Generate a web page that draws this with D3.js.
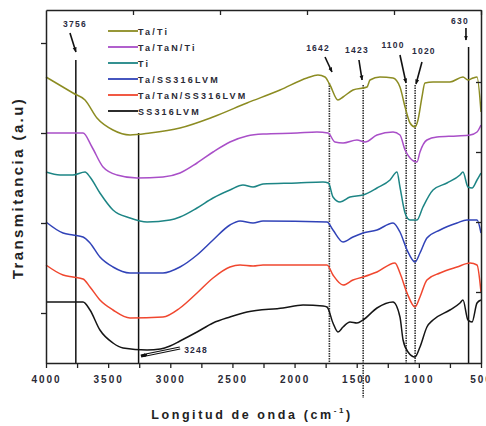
<!DOCTYPE html>
<html>
<head>
<meta charset="utf-8">
<script src="https://cdn.jsdelivr.net/npm/d3@7"></script>
<style>
  body { margin: 0; background: #fff; }
  svg { display: block; font-family: "Liberation Sans", Arial, sans-serif; }
</style>
</head>
<body>
<script>
// Series: [wavenumber (cm-1), transmittance (a.u.)]
const seriesNames = ["Ta/Ti", "Ta/TaN/Ti", "Ti", "Ta/SS316LVM", "Ta/TaN/SS316LVM", "SS316LVM"];
const seriesColors = ["#8c8c22", "#a94fc8", "#1d8585", "#3143b8", "#f0472f", "#151515"];

const taTi = [[4000,28.6],[3783,27.0],[3686,26.3],[3590,24.5],[3461,23.3],[3324,22.8],[3163,23.0],[2922,23.5],
  [2656,24.6],[2383,26.0],[2117,27.3],[1900,28.5],[1812,28.8],[1755,28.6],[1715,27.8],[1651,26.3],[1610,26.6],
  [1530,27.3],[1417,27.6],[1393,28.3],[1313,28.6],[1208,28.5],[1152,27.6],[1111,25.6],[1071,24.0],[1031,23.6],
  [1007,24.3],[975,26.6],[951,28.0],[886,28.1],[750,28.1],[645,28.6],[605,28.3],[564,28.5],[532,28.6],[500,25.1]];

const taTaNTi = [[4000,23.0],[3702,23.0],[3630,21.6],[3541,19.6],[3429,18.8],[3268,18.5],[3059,18.6],[2922,19.0],
  [2785,20.0],[2656,21.1],[2520,22.1],[2383,22.7],[2254,22.9],[1980,23.0],[1820,23.1],[1731,23.0],[1675,22.1],
  [1610,22.0],[1498,22.3],[1433,22.1],[1337,22.8],[1208,23.1],[1152,22.8],[1111,21.3],[1071,20.5],[1015,20.1],
  [991,21.1],[935,22.3],[854,22.6],[693,22.7],[588,22.8],[532,23.1],[500,23.8]];

const ti = [[4000,19.1],[3887,18.8],[3783,18.8],[3686,19.1],[3646,18.6],[3566,17.0],[3461,15.3],[3324,14.5],
  [3187,14.1],[3002,14.3],[2922,14.6],[2785,15.5],[2656,16.5],[2520,17.3],[2415,17.8],[2334,17.6],[2254,17.9],
  [1980,18.0],[1771,18.1],[1727,18.0],[1691,16.6],[1634,16.1],[1554,16.6],[1449,16.8],[1337,17.5],[1232,18.3],
  [1176,19.1],[1152,17.6],[1111,15.0],[1071,14.3],[1015,14.3],[967,15.6],[886,17.3],[774,18.0],[669,18.8],
  [645,19.1],[605,17.6],[572,17.5],[532,18.3],[500,19.0]];

const taSS = [[4000,14.1],[3863,13.0],[3783,12.8],[3702,12.6],[3646,12.0],[3566,10.6],[3461,9.6],[3324,9.0],
  [3059,9.0],[2922,9.6],[2785,10.8],[2656,12.3],[2520,13.8],[2439,14.2],[2334,14.0],[2254,14.2],[1739,14.1],
  [1691,13.3],[1610,12.1],[1530,12.6],[1449,13.0],[1337,13.3],[1208,14.0],[1152,13.1],[1095,11.3],[1031,10.1],
  [991,11.0],[935,12.5],[830,13.3],[693,14.0],[613,14.3],[532,14.3],[500,13.0]];

const taTaNSS = [[4000,9.8],[3863,8.8],[3783,8.6],[3702,8.4],[3646,7.6],[3566,6.3],[3461,5.3],[3324,4.5],
  [3059,4.6],[2922,5.5],[2785,7.0],[2656,8.5],[2520,9.6],[2439,9.8],[2334,9.7],[2254,9.8],[1739,9.8],
  [1691,8.8],[1610,7.8],[1530,8.3],[1449,8.6],[1337,9.1],[1192,10.0],[1152,9.0],[1095,7.0],[1031,5.6],
  [991,6.6],[935,8.3],[830,9.0],[693,9.6],[588,10.0],[532,9.8],[500,7.1]];

const ss316 = [[4000,6.1],[3702,6.1],[3646,5.3],[3566,3.3],[3461,2.0],[3380,1.5],[3187,1.3],[3080,1.4],
  [3002,1.7],[2922,2.2],[2785,3.1],[2656,4.0],[2520,4.6],[2383,5.1],[2093,5.5],[1932,5.8],[1771,5.7],[1739,5.6],
  [1691,4.0],[1651,3.1],[1610,3.6],[1554,4.1],[1498,4.0],[1449,4.3],[1337,5.5],[1208,6.1],[1152,4.6],
  [1127,2.3],[1087,1.1],[1031,0.6],[991,1.6],[935,3.6],[886,4.3],[750,5.3],[669,6.0],[645,6.3],
  [605,4.3],[572,4.1],[532,6.0],[500,6.3]];

const allSeries = [taTi, taTaNTi, ti, taSS, taTaNSS, ss316];

// Axis ticks
const xTickValues = d3.range(500, 4001, 250);
const xTopTicks = [500, 1200, 1900, 2600, 3300];
const yLeftTicks = [5, 14, 23, 32];
const yRightTicks = [7.1, 14.1, 21.1, 28.1];

// Marker lines: [wavenumber, top value, bottom value]
const solidLines = [[3760, 30.3, 0], [3255, 23.0, 0], [600, 31.6, 0]];
const dashedLines = [[1720, 28.0, 0], [1448, 27.8, -3.5], [1102, 27.8, 0], [1030, 27.8, 0]];

// Peak labels: text, label position, arrow from [wn,t] to [wn,t]
const peakLabels = ["3756", "1642", "1423", "1100", "1020", "630"];
const peakLabelPos = [[3767, 33.6], [1811, 31.2], [1498, 31.0], [1208, 31.5], [959, 30.9], [669, 33.9]];
const peakArrows = [[[3807, 33.0], [3759, 31.1]], [[1755, 30.6], [1699, 29.1]], [[1482, 30.3], [1457, 28.3]],
  [[1152, 30.8], [1103, 28.0]], [[975, 30.1], [1023, 27.9]], [[621, 33.5], [621, 32.3]]];

const svgWidth = 486;
const svgHeight = 426;
const padLeft = 46, padRight = 481, padTop = 10, padBottom = 363;

const svg = d3.select("body").append("svg")
  .attr("width", svgWidth)
  .attr("height", svgHeight);

const xScale = d3.scaleLinear().domain([4000, 500]).range([padLeft, padRight]);
const yScale = d3.scaleLinear().domain([0, 35.3]).range([padBottom, padTop]);

svg.append("defs").append("marker")
  .attr("id", "head")
  .attr("viewBox", "0 0 10 10")
  .attr("refX", 9).attr("refY", 5)
  .attr("markerWidth", 5).attr("markerHeight", 5)
  .attr("markerUnits", "userSpaceOnUse")
  .attr("orient", "auto")
  .append("path").attr("d", "M0,1L10,5L0,9Z").attr("fill", "#111");

// vertical marker lines (behind curves)
svg.selectAll(".vsolid").data(solidLines).enter().append("line")
  .attr("x1", d => xScale(d[0])).attr("x2", d => xScale(d[0]))
  .attr("y1", d => yScale(d[1])).attr("y2", d => yScale(d[2]))
  .attr("stroke", "#111").attr("stroke-width", 1.5);

svg.selectAll(".vdash").data(dashedLines).enter().append("line")
  .attr("x1", d => xScale(d[0])).attr("x2", d => xScale(d[0]))
  .attr("y1", d => yScale(d[1])).attr("y2", d => yScale(d[2]))
  .attr("stroke", "#333").attr("stroke-width", 1.6)
  .attr("stroke-dasharray", "1.5,1");

// spectra
const line = d3.line()
  .x(d => xScale(d[0]))
  .y(d => yScale(d[1]))
  .curve(d3.curveMonotoneX);

svg.selectAll(".spectrum").data(allSeries).enter().append("path")
  .attr("d", line)
  .attr("fill", "none")
  .attr("stroke", (d, i) => seriesColors[i])
  .attr("stroke-width", 1.5);

// axes
const xAxis = d3.axisBottom(xScale).tickValues(xTickValues)
  .tickFormat(d => d % 500 === 0 ? d : "")
  .tickSizeInner(5).tickSizeOuter(0).tickPadding(8);
const gx = svg.append("g").attr("transform", "translate(0," + padBottom + ")").call(xAxis);

svg.append("g").attr("transform", "translate(0," + padTop + ")")
  .call(d3.axisTop(xScale).tickValues(xTopTicks).tickFormat("").tickSizeInner(-5).tickSizeOuter(0));
svg.append("g").attr("transform", "translate(" + padLeft + ",0)")
  .call(d3.axisLeft(yScale).tickValues(yLeftTicks).tickFormat("").tickSizeInner(5).tickSizeOuter(0));
svg.append("g").attr("transform", "translate(" + padRight + ",0)")
  .call(d3.axisRight(yScale).tickValues(yRightTicks).tickFormat("").tickSizeInner(-5).tickSizeOuter(0));

svg.selectAll(".domain").attr("stroke", "#222").attr("stroke-width", 1.5);
svg.selectAll(".tick line").attr("stroke", "#222").attr("stroke-width", 1.3);
gx.selectAll("text")
  .attr("font-size", 10).attr("font-weight", "bold")
  .attr("fill", "#2a2a35").style("letter-spacing", "2px")
  .attr("font-family", "Liberation Sans, Arial, sans-serif");

// axis titles
const xTitle = svg.append("text")
  .attr("x", 252).attr("y", 419)
  .attr("text-anchor", "middle")
  .attr("font-size", 12.5).attr("font-weight", "bold").attr("fill", "#222")
  .style("letter-spacing", "2.6px");
xTitle.append("tspan").text("Longitud de onda (cm");
xTitle.append("tspan").attr("font-size", 8).attr("dy", -6).text("-1");
xTitle.append("tspan").attr("dy", 6).text(")");

svg.append("text")
  .attr("transform", "translate(23,188) rotate(-90)")
  .attr("text-anchor", "middle")
  .attr("font-size", 15).attr("font-weight", "bold").attr("fill", "#222")
  .style("letter-spacing", "2.4px")
  .text("Transmitancia (a.u)");

// legend
const legend = svg.append("g").attr("transform", "translate(108,31)");
const rows = legend.selectAll("g").data(seriesNames).enter().append("g")
  .attr("transform", (d, i) => "translate(0," + (i * 16) + ")");
rows.append("line").attr("x1", 0).attr("x2", 30).attr("y1", 0).attr("y2", 0)
  .attr("stroke", (d, i) => seriesColors[i]).attr("stroke-width", 1.8);
rows.append("text").attr("x", 30).attr("y", 3.5)
  .attr("font-size", 9).attr("font-weight", "bold").attr("fill", "#2a2a35")
  .style("letter-spacing", "2.2px")
  .text(d => d);

// peak labels and arrows
svg.selectAll(".plabel").data(peakLabels).enter().append("text")
  .attr("x", (d, i) => xScale(peakLabelPos[i][0]))
  .attr("y", (d, i) => yScale(peakLabelPos[i][1]))
  .attr("text-anchor", "middle")
  .attr("font-size", 8.5).attr("font-weight", "bold").attr("fill", "#2a2a40")
  .style("letter-spacing", "1.2px")
  .text(d => d);

svg.selectAll(".parrow").data(peakArrows).enter().append("line")
  .attr("x1", d => xScale(d[0][0])).attr("y1", d => yScale(d[0][1]))
  .attr("x2", d => xScale(d[1][0])).attr("y2", d => yScale(d[1][1]))
  .attr("stroke", "#111").attr("stroke-width", 1.6)
  .attr("marker-end", "url(#head)");

// 3248 label with hollow arrow
const lowLabel = ["3248"];
const lowLabelPos = [2793, 1.0];
const lowArrow = [[2922, 1.5], [3236, 0.7]];
svg.append("line")
  .attr("x1", xScale(lowArrow[0][0])).attr("y1", yScale(lowArrow[0][1]))
  .attr("x2", xScale(lowArrow[1][0])).attr("y2", yScale(lowArrow[1][1]))
  .attr("stroke", "#111").attr("stroke-width", 3.2)
  .attr("marker-end", "url(#head)");
svg.append("line")
  .attr("x1", xScale(lowArrow[0][0])).attr("y1", yScale(lowArrow[0][1]))
  .attr("x2", xScale(lowArrow[1][0]) + 6).attr("y2", yScale(lowArrow[1][1]) - 1.2)
  .attr("stroke", "#fff").attr("stroke-width", 1);
svg.append("text")
  .attr("x", xScale(lowLabelPos[0])).attr("y", yScale(lowLabelPos[1]))
  .attr("text-anchor", "middle")
  .attr("font-size", 8.5).attr("font-weight", "bold").attr("fill", "#2a2a40")
  .style("letter-spacing", "1.2px")
  .text(lowLabel[0]);
</script>
</body>
</html>
